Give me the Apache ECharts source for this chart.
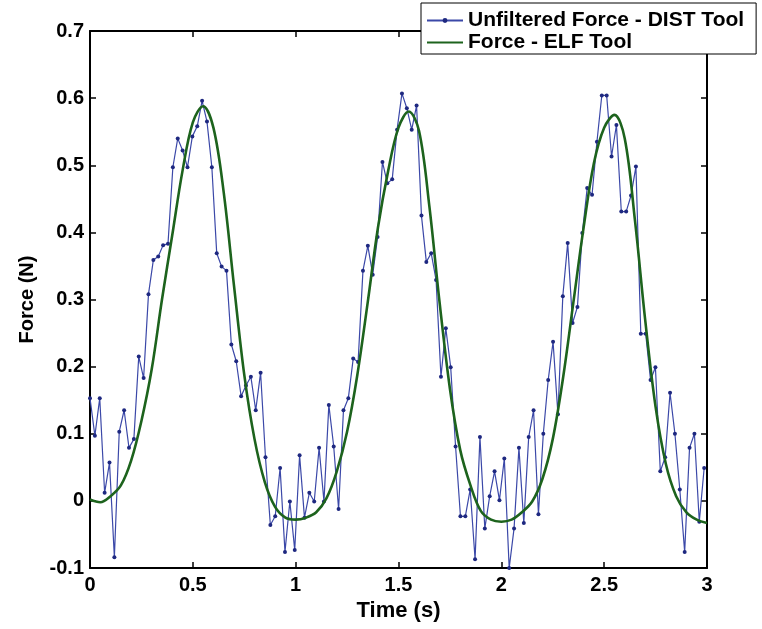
<!DOCTYPE html>
<html>
<head>
<meta charset="utf-8">
<script src="https://cdn.jsdelivr.net/npm/echarts@6/dist/echarts.min.js"></script>
<style>
html,body{margin:0;padding:0;background:#fff;}
#chart{width:762px;height:629px;}
</style>
</head>
<body>
<div id="chart"></div>
<script>
// Sample interval of the unfiltered DIST tool signal (s)
const distSampleInterval = 0.0237;
// Unfiltered Force - DIST Tool (N), one value per sample
const unfilteredForce = [
  0.153, 0.097, 0.153, 0.012, 0.057, -0.084, 0.103, 0.135, 0.079, 0.092,
  0.215, 0.183, 0.308, 0.359, 0.364, 0.381, 0.383, 0.497, 0.540, 0.522,
  0.497, 0.543, 0.558, 0.596, 0.565, 0.497, 0.369, 0.349, 0.343, 0.233,
  0.208, 0.156, 0.172, 0.185, 0.135, 0.191, 0.065, -0.036, -0.023, 0.049,
  -0.076, -0.001, -0.073, 0.068,
  -0.025, 0.012, -0.001, 0.079, -0.001, 0.143, 0.081, -0.012, 0.135, 0.153,
  0.212, 0.207, 0.343, 0.380, 0.337, 0.393, 0.505, 0.473, 0.479, 0.553,
  0.607, 0.585, 0.553, 0.589, 0.425, 0.356, 0.369, 0.329, 0.185, 0.257,
  0.199, 0.081, -0.023, -0.023, 0.017, -0.087, 0.095, -0.041, 0.007, 0.044,
  0.001, 0.063,
  -0.100, -0.041, 0.079, -0.033, 0.095, 0.135, -0.020, 0.100, 0.180, 0.237,
  0.129, 0.305, 0.384, 0.265, 0.289, 0.399, 0.466, 0.456, 0.535, 0.604,
  0.604, 0.513, 0.560, 0.431, 0.431, 0.455, 0.498, 0.249, 0.249, 0.180,
  0.199, 0.044, 0.065, 0.161, 0.100, 0.017, -0.076, 0.079, 0.100, -0.031,
  0.049
];
// Sample interval of the ELF tool curve as read (s)
const elfSampleInterval = 0.05;
// Force - ELF Tool (N)
const elfForce = [
  0.002, -0.002, 0.007, 0.023, 0.060, 0.119, 0.196, 0.300, 0.396, 0.492,
  0.564, 0.588, 0.556, 0.460, 0.321, 0.188, 0.092, 0.028, -0.009, -0.025,
  -0.028,
  -0.025, -0.017, 0.004, 0.044, 0.103, 0.188, 0.295, 0.407, 0.492, 0.556,
  0.580, 0.551, 0.439, 0.295, 0.167, 0.076, 0.023, -0.015, -0.028, -0.031,
  -0.028, -0.017, -0.001, 0.033, 0.092, 0.183, 0.295, 0.407, 0.503, 0.556,
  0.575, 0.540, 0.417, 0.268, 0.140, 0.055, 0.007, -0.017, -0.028, -0.033
];
const seriesNames = ['Unfiltered Force - DIST Tool', 'Force - ELF Tool'];
const xAxisName = 'Time (s)';
const yAxisName = 'Force (N)';

const distData = unfilteredForce.map((v, i) => [+(i * distSampleInterval).toFixed(4), v]);
const elfData = elfForce.map((v, i) => [+(i * elfSampleInterval).toFixed(4), v]);

const FONT = '"Liberation Sans", Arial, sans-serif';
const axisLine = { show: true, onZero: false, lineStyle: { color: '#000', width: 2 } };
const tick = { show: true, inside: true, length: 6, lineStyle: { color: '#000', width: 1.5 } };
const lbl = { color: '#000', fontFamily: FONT, fontWeight: 'bold', fontSize: 20 };

const chart = echarts.init(document.getElementById('chart'), null, { renderer: 'canvas' });
chart.setOption({
  backgroundColor: '#fff',
  animation: false,
  grid: { left: 90, right: 55, top: 31, bottom: 61, containLabel: false },
  legend: {
    orient: 'vertical',
    left: 421,
    top: 3,
    itemWidth: 36,
    itemHeight: 6,
    itemGap: 1,
    padding: [7, 12, 1, 5],
    backgroundColor: '#fff',
    borderColor: '#000',
    borderWidth: 1,
    borderRadius: 0,
    z: 10,
    textStyle: { color: '#000', fontFamily: FONT, fontWeight: 'bold', fontSize: 21, lineHeight: 21 },
    data: [
      { name: seriesNames[0] },
      { name: seriesNames[1], itemStyle: { opacity: 0 } }
    ]
  },
  xAxis: [
    {
      type: 'value', min: 0, max: 3, interval: 0.5, position: 'bottom',
      name: xAxisName, nameLocation: 'middle', nameGap: 27,
      nameTextStyle: { color: '#000', fontFamily: FONT, fontWeight: 'bold', fontSize: 22 },
      axisLine: axisLine, axisTick: tick, splitLine: { show: false },
      axisLabel: Object.assign({ margin: 7 }, lbl)
    },
    {
      type: 'value', min: 0, max: 3, interval: 0.5, position: 'top',
      axisLine: axisLine, axisTick: tick, splitLine: { show: false },
      axisLabel: { show: false }
    }
  ],
  yAxis: [
    {
      type: 'value', min: -0.1, max: 0.7, interval: 0.1, position: 'left',
      name: yAxisName, nameLocation: 'middle', nameGap: 53,
      nameTextStyle: { color: '#000', fontFamily: FONT, fontWeight: 'bold', fontSize: 20 },
      axisLine: axisLine, axisTick: tick, splitLine: { show: false },
      axisLabel: Object.assign({ margin: 6, formatter: v => String(+v.toFixed(1)) }, lbl)
    },
    {
      type: 'value', min: -0.1, max: 0.7, interval: 0.1, position: 'right',
      axisLine: axisLine, axisTick: tick, splitLine: { show: false },
      axisLabel: { show: false }
    }
  ],
  series: [
    {
      name: seriesNames[0], type: 'line', data: distData,
      xAxisIndex: 0, yAxisIndex: 0,
      symbol: 'circle', symbolSize: 4, showSymbol: true,
      lineStyle: { color: '#3b48a8', width: 1.2 },
      itemStyle: { color: '#1e2880' },
      z: 2
    },
    {
      name: seriesNames[1], type: 'line', data: elfData,
      xAxisIndex: 0, yAxisIndex: 0,
      symbol: 'none', smooth: 0.35,
      lineStyle: { color: '#1d631d', width: 2.6 },
      itemStyle: { color: '#1d631d' },
      z: 3
    }
  ]
});
</script>
</body>
</html>
